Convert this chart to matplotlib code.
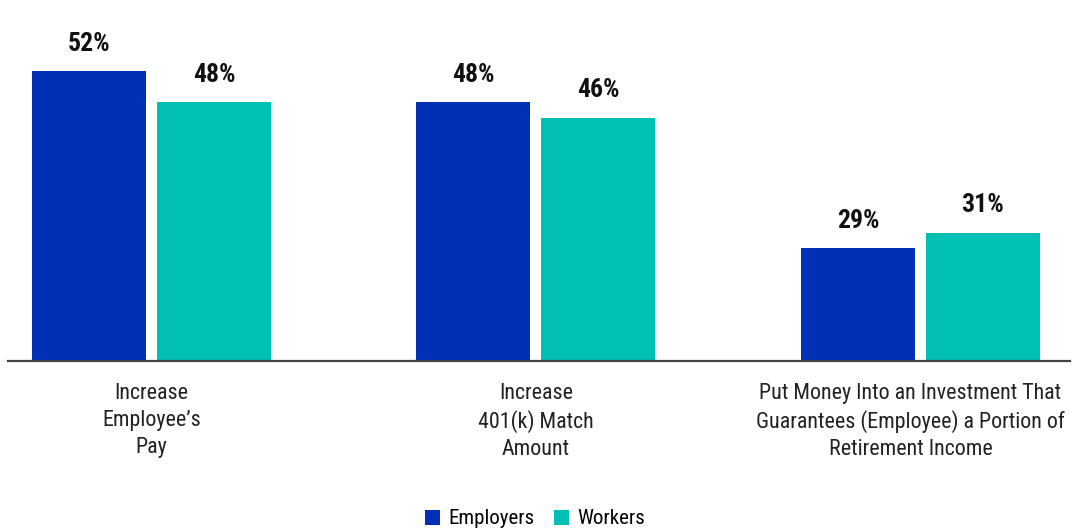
import matplotlib
matplotlib.use("Agg")
import matplotlib.pyplot as plt
import matplotlib.transforms as mtransforms
from matplotlib import font_manager
import numpy as np

categories = ["Increase\nEmployee\u2019s\nPay",
              "Increase\n401(k) Match\nAmount",
              "Put Money Into an Investment That\nGuarantees (Employee) a Portion of\nRetirement Income"]
series_names = ["Employers", "Workers"]
employers = [52, 48, 29]
workers = [48, 46, 31]
colors = ["#012FB5", "#00C0B3"]

names = {f.name for f in font_manager.fontManager.ttflist}
cond = [f for f in font_manager.fontManager.ttflist
        if f.name == "DejaVu Sans" and "ondensed" in str(f.stretch)]
if "Roboto Condensed" in names:
    fam, stretch = "Roboto Condensed", "normal"
elif cond:
    fam, stretch = "DejaVu Sans", "condensed"
else:
    fam, stretch = "Roboto", "normal"
plt.rcParams["font.family"] = [fam, "DejaVu Sans"]
plt.rcParams["font.stretch"] = stretch

fig = plt.figure(figsize=(10.72, 5.31), dpi=100)
ax = fig.add_axes([8 / 1072, 170 / 531, 1062 / 1072, 351 / 531])

x = np.arange(len(categories))
w = 0.2965
off = 0.1625
b1 = ax.bar(x - off, employers, w, color=colors[0], label=series_names[0])
b2 = ax.bar(x + off, workers, w, color=colors[1], label=series_names[1])

for bars, vals in ((b1, employers), (b2, workers)):
    for r, v in zip(bars, vals):
        ax.annotate(f"{v}%", (r.get_x() + r.get_width() / 2, v),
                    xytext=(0, 11), textcoords="offset points",
                    ha="center", va="bottom", fontsize=18.5, fontweight="bold",
                    color="#111111")

ax.set_xlim(-0.373, 2.389)
ax.set_ylim(14.3, 60)
ax.set_xticks([])
ax.set_yticks([])

label_shift = [0, 0, -10]
base = ax.get_xaxis_transform()
for xi, lab, dx in zip(x, categories, label_shift):
    tr = base + mtransforms.ScaledTranslation(dx / 100, -22 / 100, fig.dpi_scale_trans)
    ax.text(xi, 0, lab, transform=tr, ha="center", va="top", fontsize=15.8,
            color="#222222", linespacing=1.36, clip_on=False)

for s in ("top", "right", "left"):
    ax.spines[s].set_visible(False)
ax.spines["bottom"].set_color("#444444")
ax.spines["bottom"].set_linewidth(1.6)

fig.legend(handles=[b1, b2], labels=series_names, loc="center",
           bbox_to_anchor=(535 / 1072, 12 / 531), ncol=2, frameon=False,
           fontsize=15, handlelength=0.75, handleheight=0.75,
           handletextpad=0.4, columnspacing=0.9)

fig.savefig("out.png", dpi=100)
